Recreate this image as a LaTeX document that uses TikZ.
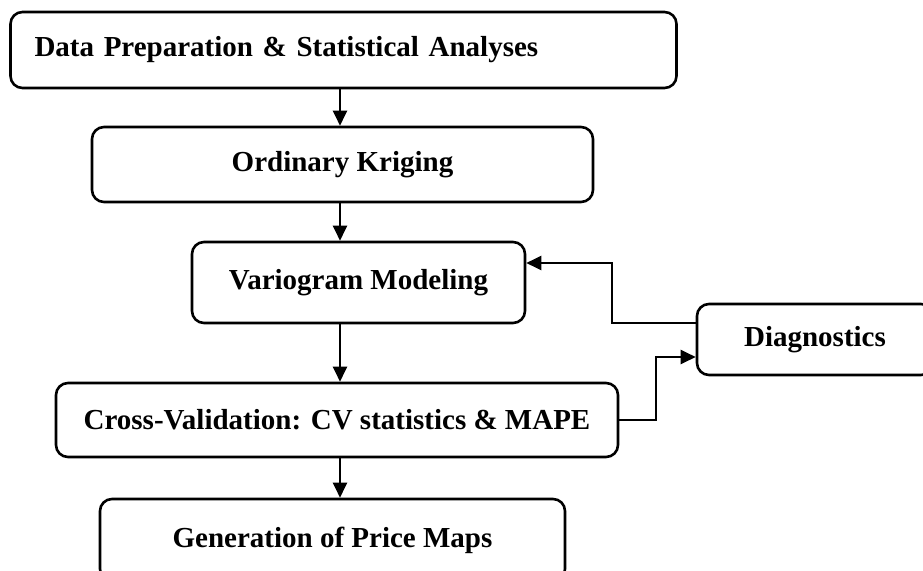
\documentclass[tikz,border=0pt]{standalone}
\usepackage{fontspec}
\setmainfont{Liberation Serif}
\usetikzlibrary{arrows.meta}
\begin{document}
\begin{tikzpicture}[x=1pt,y=-1pt,
  box/.style={draw, line width=2.6pt, rounded corners=12pt, inner sep=0pt,
    font=\fontsize{29}{34}\selectfont\bfseries, align=center},
  arr/.style={line width=2.2pt, -{Triangle[length=15pt,width=14pt]}}]
\clip (0,0) rectangle (923,570);
\fill[white] (0,0) rectangle (923,570);
\node[box, minimum height=76pt, text width=618pt, inner xsep=24pt, align=left] (b1) at (343.5,50) {Data Preparation \& Statistical Analyses};
\node[box, minimum width=501pt, minimum height=75pt] (b2) at (342.5,164.5) {Ordinary Kriging};
\node[box, minimum width=333pt, minimum height=81pt] (b3) at (358.5,282.5) {Variogram Modeling};
\node[box, minimum width=562pt, minimum height=74pt] (b4) at (337,420) {Cross-Validation: CV statistics \& MAPE};
\node[box, minimum width=465pt, minimum height=82pt] (b5) at (332.5,540) {Generation of Price Maps};
\node[box, minimum width=236pt, minimum height=71pt] (diag) at (815,339.5) {Diagnostics};
\coordinate (spine) at (340,0);
\coordinate (k1) at (656,357);
\coordinate (k2) at (612,323);
\coordinate (k3) at (612,263);
\draw[arr] (b1.south -| spine) -- (b2.north -| spine);
\draw[arr] (b2.south -| spine) -- (b3.north -| spine);
\draw[arr] (b3.south -| spine) -- (b4.north -| spine);
\draw[arr] (b4.south -| spine) -- (b5.north -| spine);
\draw[arr] (b4.east) -| (k1) -- (k1 -| diag.west);
\draw[arr] (k2 -| diag.west) -- (k2) -- (k3) -- (k3 -| b3.east);
\end{tikzpicture}
\end{document}
